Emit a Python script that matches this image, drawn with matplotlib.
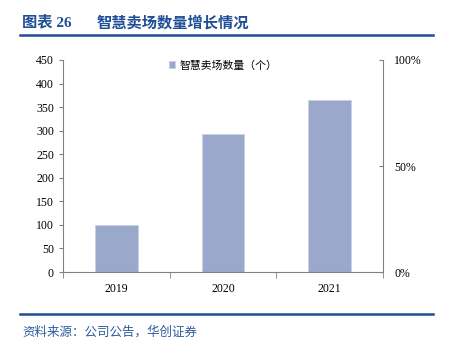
import numpy as np
import matplotlib.pyplot as plt
from matplotlib.ticker import FuncFormatter

plt.rcParams['font.family'] = ['Noto Sans CJK SC', 'DejaVu Sans']

# data
years = ['2019', '2020', '2021']
stores = [100, 293, 365]
left_ticks = [0, 50, 100, 150, 200, 250, 300, 350, 400, 450]
right_ticks = [0, 0.5, 1.0]

bar_color = '#9AA8CB'
blue = '#1F4E96'
grey = '#808080'

fig = plt.figure(figsize=(4.49, 3.61), dpi=100)
ax = fig.add_axes([0.1403, 0.2465, 0.7127, 0.5873])

x = np.arange(len(years))
ax.bar(x, stores, width=0.4, color=bar_color, edgecolor='#C9D1E6', linewidth=0.6,
       label='智慧卖场数量（个）', zorder=2)

ax.set_xlim(-0.5, len(years) - 0.5)
ax.set_ylim(0, 450)
ax.set_yticks(left_ticks)
ax.set_xticks(x)
ax.set_xticklabels(years)
ax.set_xticks(np.arange(-0.5, len(years)), minor=True)
ax.tick_params(axis='x', which='major', length=0, pad=8)
ax.tick_params(axis='x', which='minor', length=4, direction='out', color=grey)
ax.tick_params(axis='y', length=3, direction='out', color=grey)
for lab in ax.get_xticklabels() + ax.get_yticklabels():
    lab.set_family('Liberation Serif')
    lab.set_fontsize(8.5)

ax.spines['top'].set_visible(False)
ax.spines['right'].set_visible(False)
for s in ['left', 'bottom']:
    ax.spines[s].set_color(grey)
    ax.spines[s].set_linewidth(0.8)

ax2 = ax.twinx()
ax2.set_ylim(0, 1)
ax2.set_yticks(right_ticks)
ax2.yaxis.set_major_formatter(FuncFormatter(lambda v, p: f'{v:.0%}'))
ax2.tick_params(axis='y', length=3, direction='in', color=grey, pad=8)
for lab in ax2.get_yticklabels():
    lab.set_family('Liberation Serif')
    lab.set_fontsize(8.5)
for s in ['top', 'left', 'bottom']:
    ax2.spines[s].set_visible(False)
ax2.spines['right'].set_color(grey)
ax2.spines['right'].set_linewidth(0.8)

leg = ax.legend(loc='upper center', bbox_to_anchor=(0.5, 1.045), frameon=False,
                fontsize=7.8, handlelength=0.6, handleheight=0.6, handletextpad=0.4)

# header and footer
fig.text(0.049, 0.938, '图表 26', fontsize=11, fontweight='bold', color=blue,
         va='center', family=['Liberation Serif', 'Noto Sans CJK SC'])
fig.text(0.215, 0.938, '智慧卖场数量增长情况', fontsize=11, fontweight='bold',
         color=blue, va='center')
fig.add_artist(plt.Line2D([0.045, 0.965], [0.903, 0.903], color=blue, linewidth=1.8))
fig.add_artist(plt.Line2D([0.045, 0.965], [0.130, 0.130], color=blue, linewidth=1.8))
fig.text(0.049, 0.080, '资料来源：公司公告，华创证券', fontsize=9, color='#2F5AA0',
         va='center', style='italic')

fig.savefig('out.png', dpi=100)
